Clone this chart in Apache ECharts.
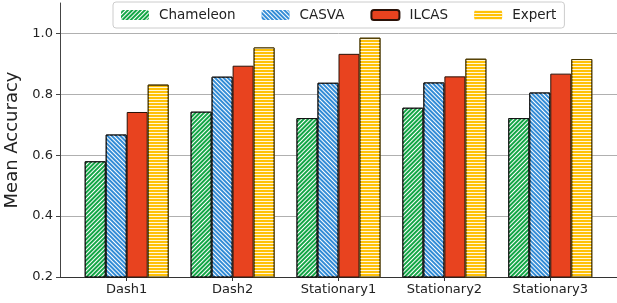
<!DOCTYPE html>
<html>
<head>
<meta charset="utf-8">
<script src="https://cdn.jsdelivr.net/npm/echarts@6/dist/echarts.min.js"></script>
<style>
  html, body { margin: 0; padding: 0; background: #fff; }
  #chart { width: 617px; height: 303px; }
</style>
</head>
<body>
<div id="chart"></div>
<script>
/* ===========================
   Data
=========================== */

const categories = ["Dash1", "Dash2", "Stationary1", "Stationary2", "Stationary3"];

const chameleon = [0.580, 0.743, 0.722, 0.756, 0.722];
const casva = [0.668, 0.858, 0.838, 0.839, 0.806];
const ilcas = [0.742, 0.894, 0.933, 0.859, 0.868];
const expert = [0.832, 0.954, 0.986, 0.917, 0.916];

const yTicks = [0.2, 0.4, 0.6, 0.8, 1.0];

/* ===========================
   Helpers
=========================== */

function toPoints(values) {
    return values.map((v, i) => [i, v]);
}

function stripes(rotation, line, gap, alpha) {
    return {
        symbol: "rect",
        symbolSize: 1,
        color: "rgba(255,255,255," + alpha + ")",
        dashArrayX: [1, 0],
        dashArrayY: [line, gap],
        rotation: rotation
    };
}

function barSeries(name, values, color, edge, decal) {
    const itemStyle = {
        color: color,
        borderColor: edge,
        borderWidth: 1
    };
    if (decal) itemStyle.decal = decal;
    return {
        name: name,
        type: "bar",
        barWidth: 21,
        barGap: "0%",
        data: toPoints(values),
        itemStyle: itemStyle,
        emphasis: { disabled: true },
        z: 3
    };
}

/* ===========================
   Chart
=========================== */

const chart = echarts.init(document.getElementById("chart"), null, { renderer: "canvas" });

const font = "DejaVu Sans";

chart.setOption({

    animation: false,

    textStyle: { fontFamily: font },

    legend: {
        top: 2,
        left: 113,
        itemWidth: 28,
        itemHeight: 10,
        itemGap: 26,
        padding: [6, 8],
        borderColor: "#cccccc",
        borderWidth: 1,
        borderRadius: 3,
        backgroundColor: "#ffffff",
        textStyle: {
            fontFamily: font,
            fontSize: 13.5,
            color: "#222",
            padding: [0, 0, 0, 5]
        },
        data: [
            { name: "Chameleon", itemStyle: { borderWidth: 0 } },
            { name: "CASVA", itemStyle: { borderWidth: 0 } },
            { name: "ILCAS" },
            { name: "Expert", itemStyle: { borderWidth: 0 } }
        ]
    },

    grid: {
        left: 60,
        right: 0,
        top: 3,
        bottom: 26,
        containLabel: false,
        outerBoundsMode: "none"
    },

    xAxis: {
        type: "value",
        min: -0.63,
        max: 4.63,
        splitLine: { show: false },
        axisLine: { onZero: false, lineStyle: { color: "#333", width: 1 } },
        axisTick: {
            show: true,
            length: 4,
            customValues: [0, 1, 2, 3, 4],
            lineStyle: { color: "#333" }
        },
        axisLabel: {
            customValues: [0, 1, 2, 3, 4],
            formatter: v => categories[Math.round(v)] || "",
            fontFamily: font,
            fontSize: 13,
            color: "#222",
            margin: 6
        }
    },

    yAxis: {
        type: "value",
        min: 0.2,
        max: 1.1,
        interval: 0.2,
        name: "Mean Accuracy",
        nameLocation: "middle",
        nameGap: 34,
        nameTextStyle: {
            fontFamily: font,
            fontSize: 18,
            color: "#222"
        },
        axisLine: { show: true, onZero: false, lineStyle: { color: "#444", width: 1 } },
        axisTick: {
            show: true,
            length: 4,
            customValues: yTicks,
            lineStyle: { color: "#444" }
        },
        axisLabel: {
            customValues: yTicks,
            formatter: v => v.toFixed(1),
            fontFamily: font,
            fontSize: 13,
            color: "#222",
            margin: 7
        },
        splitLine: {
            show: true,
            lineStyle: {
                color: ["#b0b0b0", "#b0b0b0", "#b0b0b0", "#b0b0b0", "#b0b0b0", "rgba(0,0,0,0)"],
                width: 1
            }
        }
    },

    series: [
        barSeries("Chameleon", chameleon, "#13a646", "#111", stripes(-Math.PI / 4, 1, 2, 1)),
        barSeries("CASVA", casva, "#338cd6", "#111", stripes(Math.PI / 4, 1, 2, 1)),
        barSeries("ILCAS", ilcas, "#e8431f", "#2a1208", null),
        barSeries("Expert", expert, "#ffc107", "#4a3800", stripes(0, 1, 2, 0.85))
    ]

});
</script>
</body>
</html>
